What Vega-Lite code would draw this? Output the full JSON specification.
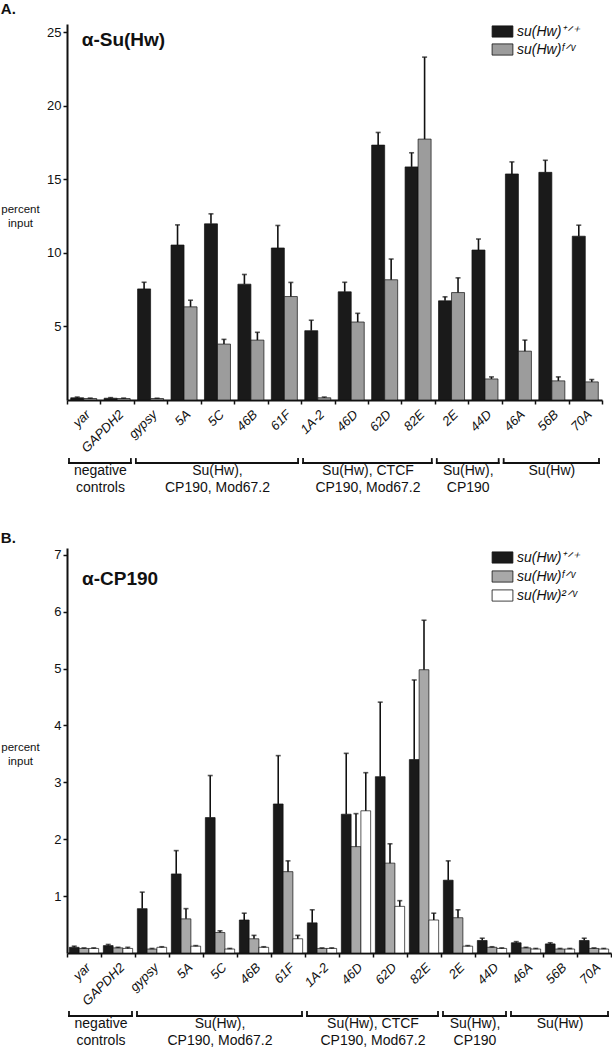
{
  "$schema": "https://vega.github.io/schema/vega-lite/v6.json",
  "padding": {"left": 0, "top": 2, "right": 0, "bottom": 0},
  "background": "white",
  "config": {
    "font": "Liberation Sans",
    "view": {"stroke": null},
    "axis": {"domainColor": "#111", "tickColor": "#111", "labelColor": "#111", "titleColor": "#111", "grid": false, "domainWidth": 2, "tickWidth": 1.5},
    "title": {"color": "#111"}
  },
  "datasets": {
    "A": [
      {"site": "yar", "g": "+/+", "v": 0.15, "hi": 0.2}, {"site": "yar", "g": "f/v", "v": 0.1, "hi": 0.13},
      {"site": "GAPDH2", "g": "+/+", "v": 0.12, "hi": 0.16}, {"site": "GAPDH2", "g": "f/v", "v": 0.1, "hi": 0.13},
      {"site": "gypsy", "g": "+/+", "v": 7.55, "hi": 8.0}, {"site": "gypsy", "g": "f/v", "v": 0.1, "hi": 0.12},
      {"site": "5A", "g": "+/+", "v": 10.53, "hi": 11.9}, {"site": "5A", "g": "f/v", "v": 6.33, "hi": 6.78},
      {"site": "5C", "g": "+/+", "v": 11.97, "hi": 12.65}, {"site": "5C", "g": "f/v", "v": 3.8, "hi": 4.12},
      {"site": "46B", "g": "+/+", "v": 7.87, "hi": 8.53}, {"site": "46B", "g": "f/v", "v": 4.07, "hi": 4.6},
      {"site": "61F", "g": "+/+", "v": 10.33, "hi": 11.86}, {"site": "61F", "g": "f/v", "v": 7.03, "hi": 7.99},
      {"site": "1A-2", "g": "+/+", "v": 4.71, "hi": 5.42}, {"site": "1A-2", "g": "f/v", "v": 0.15, "hi": 0.2},
      {"site": "46D", "g": "+/+", "v": 7.35, "hi": 8.0}, {"site": "46D", "g": "f/v", "v": 5.3, "hi": 5.89},
      {"site": "62D", "g": "+/+", "v": 17.32, "hi": 18.18}, {"site": "62D", "g": "f/v", "v": 8.17, "hi": 9.58},
      {"site": "82E", "g": "+/+", "v": 15.84, "hi": 16.8}, {"site": "82E", "g": "f/v", "v": 17.73, "hi": 23.3},
      {"site": "2E", "g": "+/+", "v": 6.74, "hi": 7.01}, {"site": "2E", "g": "f/v", "v": 7.3, "hi": 8.3},
      {"site": "44D", "g": "+/+", "v": 10.19, "hi": 10.94}, {"site": "44D", "g": "f/v", "v": 1.43, "hi": 1.57},
      {"site": "46A", "g": "+/+", "v": 15.36, "hi": 16.18}, {"site": "46A", "g": "f/v", "v": 3.32, "hi": 4.07},
      {"site": "56B", "g": "+/+", "v": 15.47, "hi": 16.29}, {"site": "56B", "g": "f/v", "v": 1.3, "hi": 1.57},
      {"site": "70A", "g": "+/+", "v": 11.13, "hi": 11.88}, {"site": "70A", "g": "f/v", "v": 1.23, "hi": 1.39}
    ],
    "B": [
      {"site": "yar", "g": "+/+", "v": 0.1, "hi": 0.12}, {"site": "yar", "g": "f/v", "v": 0.08, "hi": 0.09}, {"site": "yar", "g": "2/v", "v": 0.08, "hi": 0.09},
      {"site": "GAPDH2", "g": "+/+", "v": 0.13, "hi": 0.15}, {"site": "GAPDH2", "g": "f/v", "v": 0.09, "hi": 0.1}, {"site": "GAPDH2", "g": "2/v", "v": 0.08, "hi": 0.1},
      {"site": "gypsy", "g": "+/+", "v": 0.78, "hi": 1.07}, {"site": "gypsy", "g": "f/v", "v": 0.07, "hi": 0.08}, {"site": "gypsy", "g": "2/v", "v": 0.1, "hi": 0.11},
      {"site": "5A", "g": "+/+", "v": 1.39, "hi": 1.8}, {"site": "5A", "g": "f/v", "v": 0.6, "hi": 0.78}, {"site": "5A", "g": "2/v", "v": 0.12, "hi": 0.13},
      {"site": "5C", "g": "+/+", "v": 2.38, "hi": 3.12}, {"site": "5C", "g": "f/v", "v": 0.36, "hi": 0.39}, {"site": "5C", "g": "2/v", "v": 0.07, "hi": 0.08},
      {"site": "46B", "g": "+/+", "v": 0.58, "hi": 0.7}, {"site": "46B", "g": "f/v", "v": 0.25, "hi": 0.31}, {"site": "46B", "g": "2/v", "v": 0.1, "hi": 0.11},
      {"site": "61F", "g": "+/+", "v": 2.62, "hi": 3.47}, {"site": "61F", "g": "f/v", "v": 1.43, "hi": 1.62}, {"site": "61F", "g": "2/v", "v": 0.25, "hi": 0.31},
      {"site": "1A-2", "g": "+/+", "v": 0.53, "hi": 0.76}, {"site": "1A-2", "g": "f/v", "v": 0.08, "hi": 0.09}, {"site": "1A-2", "g": "2/v", "v": 0.08, "hi": 0.09},
      {"site": "46D", "g": "+/+", "v": 2.44, "hi": 3.51}, {"site": "46D", "g": "f/v", "v": 1.87, "hi": 2.45}, {"site": "46D", "g": "2/v", "v": 2.5, "hi": 3.17},
      {"site": "62D", "g": "+/+", "v": 3.1, "hi": 4.41}, {"site": "62D", "g": "f/v", "v": 1.58, "hi": 1.92}, {"site": "62D", "g": "2/v", "v": 0.82, "hi": 0.92},
      {"site": "82E", "g": "+/+", "v": 3.4, "hi": 4.8}, {"site": "82E", "g": "f/v", "v": 4.98, "hi": 5.85}, {"site": "82E", "g": "2/v", "v": 0.58, "hi": 0.7},
      {"site": "2E", "g": "+/+", "v": 1.28, "hi": 1.62}, {"site": "2E", "g": "f/v", "v": 0.62, "hi": 0.76}, {"site": "2E", "g": "2/v", "v": 0.12, "hi": 0.13},
      {"site": "44D", "g": "+/+", "v": 0.22, "hi": 0.26}, {"site": "44D", "g": "f/v", "v": 0.1, "hi": 0.11}, {"site": "44D", "g": "2/v", "v": 0.08, "hi": 0.09},
      {"site": "46A", "g": "+/+", "v": 0.18, "hi": 0.2}, {"site": "46A", "g": "f/v", "v": 0.09, "hi": 0.1}, {"site": "46A", "g": "2/v", "v": 0.07, "hi": 0.08},
      {"site": "56B", "g": "+/+", "v": 0.16, "hi": 0.18}, {"site": "56B", "g": "f/v", "v": 0.07, "hi": 0.08}, {"site": "56B", "g": "2/v", "v": 0.07, "hi": 0.08},
      {"site": "70A", "g": "+/+", "v": 0.22, "hi": 0.26}, {"site": "70A", "g": "f/v", "v": 0.08, "hi": 0.09}, {"site": "70A", "g": "2/v", "v": 0.07, "hi": 0.08}
    ],
    "groups": [
      {"label": "negative\ncontrols", "from": 0, "to": 2, "mid": 1},
      {"label": "Su(Hw),\nCP190, Mod67.2", "from": 2, "to": 7, "mid": 4.5},
      {"label": "Su(Hw), CTCF\nCP190, Mod67.2", "from": 7, "to": 11, "mid": 9},
      {"label": "Su(Hw),\nCP190", "from": 11, "to": 13, "mid": 12},
      {"label": "Su(Hw)", "from": 13, "to": 16, "mid": 14.5}
    ],
    "antibodyA": [{"t": "α-Su(Hw)"}],
    "antibodyB": [{"t": "α-CP190"}]
  },
  "resolve": {"scale": {"x": "independent", "y": "independent", "xOffset": "independent", "fill": "independent"}},
  "spacing": 36,
  "vconcat": [
    {
      "title": {"text": "A.", "anchor": "start", "frame": "bounds", "fontSize": 15, "fontWeight": "bold", "offset": 6},
      "spacing": 2,
      "resolve": {"scale": {"x": "independent", "y": "independent"}},
      "vconcat": [
        {
          "width": 535,
          "height": 376,
          "layer": [
            {"data": {"name": "A"},
              "mark": {"type": "bar", "stroke": "#111", "strokeWidth": 0.7},
              "encoding": {
                "x": {"field": "site", "type": "nominal", "sort": null, "scale": {"paddingInner": 0, "paddingOuter": 0},
                  "axis": {"title": null, "labelAngle": -45, "labelAlign": "right", "labelBaseline": "middle", "labelFontStyle": "italic", "labelFontSize": 13, "tickBand": "extent", "tickSize": 4, "labelPadding": 8, "labelOffset": 4}},
                "y": {"field": "v", "type": "quantitative", "scale": {"domain": [0, 25.55], "nice": false},
                  "axis": {"title": ["percent", "input"], "titleAngle": 0, "titleAlign": "center", "titleBaseline": "middle", "titleX": -47, "titleY": 185, "titleFontSize": 11.5, "titleFontWeight": "normal", "titleLineHeight": 14, "values": [5, 10, 15, 20, 25], "format": "d", "labelFontSize": 13, "tickSize": 4, "labelPadding": 2}},
                "xOffset": {"field": "g", "type": "nominal", "scale": {"domain": ["+/+", "f/v"], "paddingInner": 0, "paddingOuter": 0.286}},
                "fill": {"field": "g", "type": "nominal", "scale": {"domain": ["+/+", "f/v"], "range": ["#1a1a1a", "#9c9c9c"]},
                "legend": {"title": null, "orient": "none", "legendX": 427, "legendY": -1, "padding": 0, "symbolType": "M-1.3,-0.7H1.3V0.7H-1.3Z", "symbolSize": 256, "symbolStrokeColor": "#111", "symbolStrokeWidth": 0.8, "labelFontSize": 14, "labelFontStyle": "italic", "labelOffset": 6, "rowPadding": 2, "labelColor": "#111",
                  "labelExpr": "datum.label == '+/+' ? 'su(Hw)⁺ᐟ⁺' : datum.label == 'f/v' ? 'su(Hw)ᶠᐟᵛ' : 'su(Hw)²ᐟᵛ'"}}}},
            {"data": {"name": "A"},
              "mark": {"type": "rule", "color": "#111", "strokeWidth": 1.6},
              "encoding": {"x": {"field": "site", "type": "nominal", "sort": null}, "xOffset": {"field": "g", "type": "nominal"}, "y": {"field": "v", "type": "quantitative"}, "y2": {"field": "hi"}}},
            {"data": {"name": "A"},
              "mark": {"type": "tick", "color": "#111", "thickness": 1.6, "size": 5, "orient": "horizontal"},
              "encoding": {"x": {"field": "site", "type": "nominal", "sort": null}, "xOffset": {"field": "g", "type": "nominal"}, "y": {"field": "hi", "type": "quantitative"}}},
            {"data": {"name": "antibodyA"},
              "mark": {"type": "text", "align": "left", "baseline": "alphabetic", "dx": -2, "fontSize": 19, "fontWeight": "bold", "color": "#111"},
              "encoding": {"x": {"datum": "yar"}, "y": {"datum": 24.06}, "text": {"field": "t", "type": "nominal"}}}
          ]
        },
        {
          "width": 535,
          "height": 4,
          "data": {"name": "groups"},
          "layer": [
            {"mark": {"type": "rule", "color": "#111", "strokeWidth": 1.8, "strokeCap": "square", "xOffset": 2, "x2Offset": -3},
              "encoding": {"x": {"field": "from", "type": "quantitative", "scale": {"domain": [0, 16], "nice": false, "zero": false}, "axis": null}, "x2": {"field": "to"}, "y": {"datum": 0, "type": "quantitative", "scale": {"domain": [0, 1], "nice": false}, "axis": null}}},
            {"mark": {"type": "rule", "color": "#111", "strokeWidth": 1.8, "strokeCap": "square", "xOffset": 2},
              "encoding": {"x": {"field": "from", "type": "quantitative"}, "y": {"datum": 0, "type": "quantitative"}, "y2": {"datum": 1}}},
            {"mark": {"type": "rule", "color": "#111", "strokeWidth": 1.8, "strokeCap": "square", "xOffset": -3},
              "encoding": {"x": {"field": "to", "type": "quantitative"}, "y": {"datum": 0, "type": "quantitative"}, "y2": {"datum": 1}}},
            {"mark": {"type": "text", "baseline": "top", "dy": 1, "lineBreak": "\n", "lineHeight": 16.5, "fontSize": 14, "color": "#111"},
              "encoding": {"x": {"field": "mid", "type": "quantitative"}, "y": {"datum": 0, "type": "quantitative"}, "text": {"field": "label"}}}
          ]
        }
      ]
    },
    {
      "title": {"text": "B.", "anchor": "start", "frame": "bounds", "fontSize": 15, "fontWeight": "bold", "offset": 2},
      "spacing": 2,
      "resolve": {"scale": {"x": "independent", "y": "independent"}},
      "vconcat": [
        {
          "width": 544,
          "height": 405,
          "layer": [
            {"data": {"name": "B"},
              "mark": {"type": "bar", "stroke": "#111", "strokeWidth": 0.7},
              "encoding": {
                "x": {"field": "site", "type": "nominal", "sort": null, "scale": {"paddingInner": 0, "paddingOuter": 0},
                  "axis": {"title": null, "labelAngle": -45, "labelAlign": "right", "labelBaseline": "middle", "labelFontStyle": "italic", "labelFontSize": 13, "tickBand": "extent", "tickSize": 4, "labelPadding": 8, "labelOffset": 4}},
                "y": {"field": "v", "type": "quantitative", "scale": {"domain": [0, 7.12], "nice": false},
                  "axis": {"title": ["percent", "input"], "titleAngle": 0, "titleAlign": "center", "titleBaseline": "middle", "titleX": -47, "titleY": 199, "titleFontSize": 11.5, "titleFontWeight": "normal", "titleLineHeight": 14, "values": [1, 2, 3, 4, 5, 6, 7], "format": "d", "labelFontSize": 13, "tickSize": 4, "labelPadding": 2}},
                "xOffset": {"field": "g", "type": "nominal", "scale": {"domain": ["+/+", "f/v", "2/v"], "paddingInner": 0, "paddingOuter": 0.24}},
                "fill": {"field": "g", "type": "nominal", "scale": {"domain": ["+/+", "f/v", "2/v"], "range": ["#1a1a1a", "#a8a8a8", "#ffffff"]},
                "legend": {"title": null, "orient": "none", "legendX": 427, "legendY": 1, "padding": 0, "symbolType": "M-1.3,-0.7H1.3V0.7H-1.3Z", "symbolSize": 256, "symbolStrokeColor": "#111", "symbolStrokeWidth": 0.8, "labelFontSize": 14, "labelFontStyle": "italic", "labelOffset": 6, "rowPadding": 3, "labelColor": "#111",
                  "labelExpr": "datum.label == '+/+' ? 'su(Hw)⁺ᐟ⁺' : datum.label == 'f/v' ? 'su(Hw)ᶠᐟᵛ' : 'su(Hw)²ᐟᵛ'"}}}},
            {"data": {"name": "B"},
              "mark": {"type": "rule", "color": "#111", "strokeWidth": 1.6},
              "encoding": {"x": {"field": "site", "type": "nominal", "sort": null}, "xOffset": {"field": "g", "type": "nominal"}, "y": {"field": "v", "type": "quantitative"}, "y2": {"field": "hi"}}},
            {"data": {"name": "B"},
              "mark": {"type": "tick", "color": "#111", "thickness": 1.6, "size": 5, "orient": "horizontal"},
              "encoding": {"x": {"field": "site", "type": "nominal", "sort": null}, "xOffset": {"field": "g", "type": "nominal"}, "y": {"field": "hi", "type": "quantitative"}}},
            {"data": {"name": "antibodyB"},
              "mark": {"type": "text", "align": "left", "baseline": "alphabetic", "dx": -2, "fontSize": 19, "fontWeight": "bold", "color": "#111"},
              "encoding": {"x": {"datum": "yar"}, "y": {"datum": 6.47}, "text": {"field": "t", "type": "nominal"}}}
          ]
        },
        {
          "width": 544,
          "height": 4,
          "data": {"name": "groups"},
          "layer": [
            {"mark": {"type": "rule", "color": "#111", "strokeWidth": 1.8, "strokeCap": "square", "xOffset": 2, "x2Offset": -3},
              "encoding": {"x": {"field": "from", "type": "quantitative", "scale": {"domain": [0, 16], "nice": false, "zero": false}, "axis": null}, "x2": {"field": "to"}, "y": {"datum": 0, "type": "quantitative", "scale": {"domain": [0, 1], "nice": false}, "axis": null}}},
            {"mark": {"type": "rule", "color": "#111", "strokeWidth": 1.8, "strokeCap": "square", "xOffset": 2},
              "encoding": {"x": {"field": "from", "type": "quantitative"}, "y": {"datum": 0, "type": "quantitative"}, "y2": {"datum": 1}}},
            {"mark": {"type": "rule", "color": "#111", "strokeWidth": 1.8, "strokeCap": "square", "xOffset": -3},
              "encoding": {"x": {"field": "to", "type": "quantitative"}, "y": {"datum": 0, "type": "quantitative"}, "y2": {"datum": 1}}},
            {"mark": {"type": "text", "baseline": "top", "dy": 1, "lineBreak": "\n", "lineHeight": 16.5, "fontSize": 14, "color": "#111"},
              "encoding": {"x": {"field": "mid", "type": "quantitative"}, "y": {"datum": 0, "type": "quantitative"}, "text": {"field": "label"}}}
          ]
        }
      ]
    }
  ]
}
